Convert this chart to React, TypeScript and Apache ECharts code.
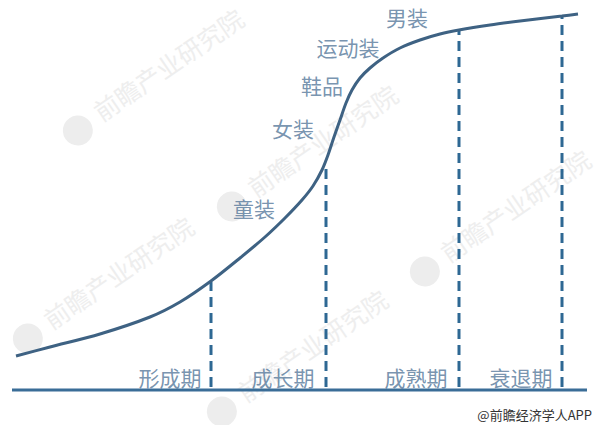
import React, { useEffect, useRef } from "react";
import * as echarts from "echarts";

// Life-cycle curve (x: time position, y: market level)
const curveX = [16, 50, 100, 150, 180, 211, 240, 265, 285, 302, 313, 322, 328, 334, 340, 346, 352, 360, 370, 383, 400, 420, 440, 459, 490, 520, 545, 562, 578];
const curveY = [69, 78, 91, 108, 123, 144, 167, 188, 207, 225, 239, 255, 270, 288, 305, 322, 335, 347, 357, 367, 377, 385, 391, 395, 400, 404, 407, 409, 411];

// Stage boundaries (dashed dividers)
const dividerX = [211, 326, 459, 562];
const dividerTop = [143, 260, 395, 408];
const dividerBottom = 38;

// Baseline (time axis)
const baseX = [12, 587];
const baseY = 35;

// Stage names
const stageNames = ["形成期", "成长期", "成熟期", "衰退期"];
const stageX = [170, 283, 416, 521];
const stageY = 48;

// Product categories along the curve
const productNames = ["童装", "女装", "鞋品", "运动装", "男装"];
const productX = [254, 293, 322, 348, 407];
const productY = [217, 297, 340, 378, 408];

const labelColor = "#55789a";
const fontFamily = "'Noto Sans CJK SC', 'Noto Sans', sans-serif";

export default function App() {
  const ref = useRef<HTMLDivElement>(null);
  useEffect(() => {
    if (!ref.current) return;
    const chart = echarts.init(ref.current, null, { renderer: "svg" });

    const wm = (x: number, y: number) => ({
      type: "group",
      x,
      y,
      rotation: 0.6,
      silent: true,
      z: -10,
      children: [
        { type: "circle", shape: { cx: -112, cy: 4, r: 15 }, style: { fill: "#ededed" } },
        {
          type: "text",
          style: {
            text: "前瞻产业研究院",
            x: 0,
            y: 0,
            fontSize: 25,
            fontFamily,
            fill: "#eeeeee",
            align: "center",
            verticalAlign: "middle",
          },
        },
      ],
    });

    const labelStyle = {
      show: true,
      position: "inside",
      formatter: "{b}",
      color: labelColor,
      fontSize: 21,
      fontFamily,
    };

    const series: any[] = [
      {
        type: "line",
        data: curveX.map((x, i) => [x, curveY[i]]),
        smooth: 0.3,
        showSymbol: false,
        lineStyle: { color: "#3e6283", width: 3 },
        z: 5,
      },
      {
        type: "line",
        data: baseX.map((x) => [x, baseY]),
        showSymbol: false,
        lineStyle: { color: "#3a6d97", width: 3 },
      },
      ...dividerX.map((x, i) => ({
        type: "line",
        data: [
          [x, dividerBottom],
          [x, dividerTop[i]],
        ],
        showSymbol: false,
        lineStyle: { color: "#2e6893", width: 3, type: [10, 6] },
      })),
      {
        type: "scatter",
        symbolSize: 0,
        data: stageNames.map((n, i) => ({ name: n, value: [stageX[i], stageY] })),
        label: labelStyle,
      },
      {
        type: "scatter",
        symbolSize: 0,
        data: productNames.map((n, i) => ({ name: n, value: [productX[i], productY[i]] })),
        label: labelStyle,
      },
    ];

    chart.setOption({
      animation: false,
      backgroundColor: "#ffffff",
      grid: { left: 0, right: 0, top: 0, bottom: 0 },
      xAxis: { type: "value", min: 0, max: 600, show: false },
      yAxis: { type: "value", min: 0, max: 425, show: false },
      graphic: [
        wm(168, 64),
        wm(322, 140),
        wm(118, 272),
        wm(312, 345),
        wm(515, 205),
        {
          type: "text",
          right: 8,
          bottom: 4,
          style: {
            text: "@前瞻经济学人APP",
            fontSize: 13,
            fontFamily,
            fill: "#333333",
          },
        },
      ],
      series,
    });
    return () => chart.dispose();
  }, []);
  return (
    <div
      ref={ref}
      style={{ position: "absolute", left: 0, top: 0, width: 600, height: 425 }}
    />
  );
}
